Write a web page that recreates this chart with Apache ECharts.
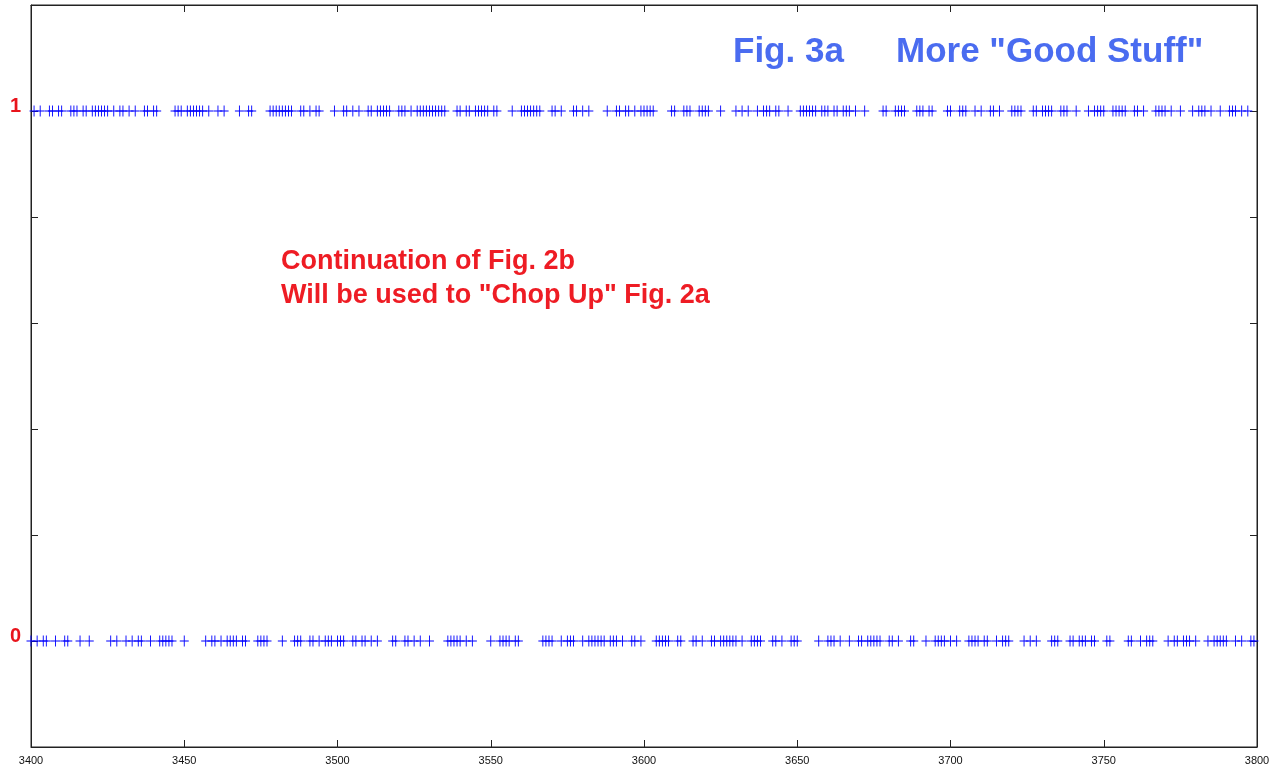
<!DOCTYPE html>
<html>
<head>
<meta charset="utf-8">
<script src="https://cdn.jsdelivr.net/npm/echarts@6/dist/echarts.min.js"></script>
<style>
html,body{margin:0;padding:0;background:#fff;}
#chart{width:1283px;height:774px;}
</style>
</head>
<body>
<div id="chart"></div>
<script>
// x positions of samples whose value is 1
const onesX = [
3401,3403,3406,3407,3409,3410,3413,3414,3415,3417,3418,3420,3421,3422,3423,3424,3425,3427,3429,3430,3432,3434,3437,3438,3440,3441,
3447,3448,3449,3451,3452,3453,3454,3455,3456,3458,3461,3463,
3468,3471,3472,3478,3479,3480,3481,3482,3483,3484,3485,3488,3489,3491,3493,3494,3499,3502,3503,3505,3507,3510,3511,3513,3514,3515,3516,3517,3520,3521,3522,3524,3526,3527,3528,3529,3530,3531,3532,
3533,3534,3535,3539,3540,3542,3543,3545,3546,3547,3548,3549,3551,3552,3557,3560,3561,3562,3563,3564,3565,3566,3570,3571,3573,3577,3578,3580,3582,3588,3591,3592,3594,3595,3597,
3599,3600,3601,3602,3603,3609,3610,3613,3614,3615,3618,3619,3620,3621,3625,3630,3632,3634,3637,3639,3640,3641,3643,3644,3647,3651,3652,3653,3654,3655,3656,3658,3659,3660,3662,3663,3665,3666,3667,
3669,3672,3678,3679,3682,3683,3684,3685,3689,3690,3691,3693,3694,3699,3700,3703,3704,3705,3708,3710,3713,3714,3716,3720,3721,3722,3723,3727,3728,3730,3731,3732,3733,
3736,3737,3738,3741,3745,3747,3748,3749,3750,3753,3754,3755,3756,3757,3760,3761,3763,3767,3768,3769,3770,3772,3775,3779,3781,3782,3783,3785,3788,3791,3792,3793,3795,3797
];
// x positions of samples whose value is 0
const zerosX = [
3400,3402,3404,3405,3408,3411,3412,3416,3419,3426,3428,3431,3433,3435,3436,3439,3442,3443,3444,3445,3446,3450,3457,3459,3460,3462,3464,3465,
3466,3467,3469,3470,3474,3475,3476,3477,3482,3486,3487,3488,3491,3492,3494,3496,3497,3498,3500,3501,3502,3505,3506,3508,3509,3511,3513,3518,3519,3522,3523,3525,3527,3530,
3536,3537,3538,3539,3540,3542,3544,3550,3553,3554,3555,3556,3558,3559,3567,3568,3569,3570,3573,3575,3576,3577,3580,3582,3583,3584,3585,3586,3587,3589,3590,3591,3593,3596,3597,3599,
3604,3605,3606,3607,3608,3611,3612,3616,3617,3619,3622,3623,3625,3626,3627,3628,3629,3630,3632,3635,3636,3637,3638,3642,3643,3645,3648,3649,3650,3657,3660,3661,3662,3664,3667,
3670,3671,3673,3674,3675,3676,3677,3680,3681,3683,3687,3688,3692,3695,3696,3697,3698,3700,3702,3706,3707,3708,3709,3711,3712,3715,3717,3718,3719,3724,3726,3728,3733,
3734,3735,3739,3740,3742,3743,3744,3746,3747,3751,3752,3758,3759,3762,3764,3765,3766,3771,3773,3774,3776,3777,3778,3780,3784,3786,3787,3788,3789,3790,3793,3795,3798,3799
];
const xRange = [3400, 3800];
const xTickStep = 50;
const yRange = [-0.2, 1.2];
const yTickStep = 0.2;
const yLabeled = {'0': '0', '1': '1'};
const titleText = ['Fig. 3a', 'More "Good Stuff"'];
const noteText = ['Continuation of Fig. 2b', 'Will be used to "Chop Up" Fig. 2a'];

const data = onesX.map(x => [x, 1]).concat(zerosX.map(x => [x, 0]));

const chart = echarts.init(document.getElementById('chart'), null, {renderer: 'canvas'});
const axisLineStyle = {color: '#222', width: 1};
const plusPath = 'path://M0,5L10,5M5,0L5,10';

chart.setOption({
  animation: false,
  backgroundColor: '#fff',
  grid: {left: 31, right: 26, top: 5, bottom: 27, show: true, borderColor: '#222', borderWidth: 1, containLabel: false},
  xAxis: [{
    type: 'value', min: xRange[0], max: xRange[1], interval: xTickStep, position: 'bottom',
    axisLine: {show: true, onZero: false, lineStyle: axisLineStyle},
    axisTick: {show: true, inside: true, length: 7, lineStyle: axisLineStyle},
    axisLabel: {show: true, color: '#111', fontSize: 11, fontFamily: 'Liberation Sans, Arial, sans-serif', margin: 8,
      formatter: v => String(v)},
    splitLine: {show: false}
  }, {
    type: 'value', min: xRange[0], max: xRange[1], interval: xTickStep, position: 'top',
    axisLine: {show: true, onZero: false, lineStyle: axisLineStyle},
    axisTick: {show: true, inside: true, length: 7, lineStyle: axisLineStyle},
    axisLabel: {show: false}, splitLine: {show: false}
  }],
  yAxis: [{
    type: 'value', min: yRange[0], max: yRange[1], interval: yTickStep, position: 'left',
    axisLine: {show: true, onZero: false, lineStyle: axisLineStyle},
    axisTick: {show: true, inside: true, length: 7, lineStyle: axisLineStyle},
    axisLabel: {
      show: true, color: '#e8141c', fontSize: 20, fontWeight: 'bold', fontFamily: 'Liberation Sans, Arial, sans-serif', margin: 10,
      verticalAlign: 'bottom', lineHeight: 10,
      formatter: v => { const k = String(Math.round(v * 1000) / 1000); return yLabeled[k] !== undefined ? yLabeled[k] : ''; }
    },
    splitLine: {show: false}
  }, {
    type: 'value', min: yRange[0], max: yRange[1], interval: yTickStep, position: 'right',
    axisLine: {show: true, onZero: false, lineStyle: axisLineStyle},
    axisTick: {show: true, inside: true, length: 7, lineStyle: axisLineStyle},
    axisLabel: {show: false}, splitLine: {show: false}
  }],
  series: [{
    type: 'scatter', xAxisIndex: 0, yAxisIndex: 0,
    data: data,
    symbol: plusPath,
    symbolSize: [9, 11],
    symbolKeepAspect: false,
    itemStyle: {color: 'rgba(0,0,0,0)', borderColor: '#0000ff', borderWidth: 1, opacity: 1},
    emphasis: {disabled: true},
    clip: false
  }],
  graphic: [
    {type: 'text', style: {x: 733, y: 52, text: titleText[0], fill: '#4a6cf0', font: 'bold 35px "Liberation Sans", Arial, sans-serif', textVerticalAlign: 'middle'}},
    {type: 'text', style: {x: 896, y: 52, text: titleText[1], fill: '#4a6cf0', font: 'bold 35px "Liberation Sans", Arial, sans-serif', textVerticalAlign: 'middle'}},
    {type: 'text', style: {x: 281, y: 262, text: noteText[0], fill: '#ee1c24', font: 'bold 27px "Liberation Sans", Arial, sans-serif', textVerticalAlign: 'middle'}},
    {type: 'text', style: {x: 281, y: 296, text: noteText[1], fill: '#ee1c24', font: 'bold 27px "Liberation Sans", Arial, sans-serif', textVerticalAlign: 'middle'}}
  ]
});
</script>
</body>
</html>
